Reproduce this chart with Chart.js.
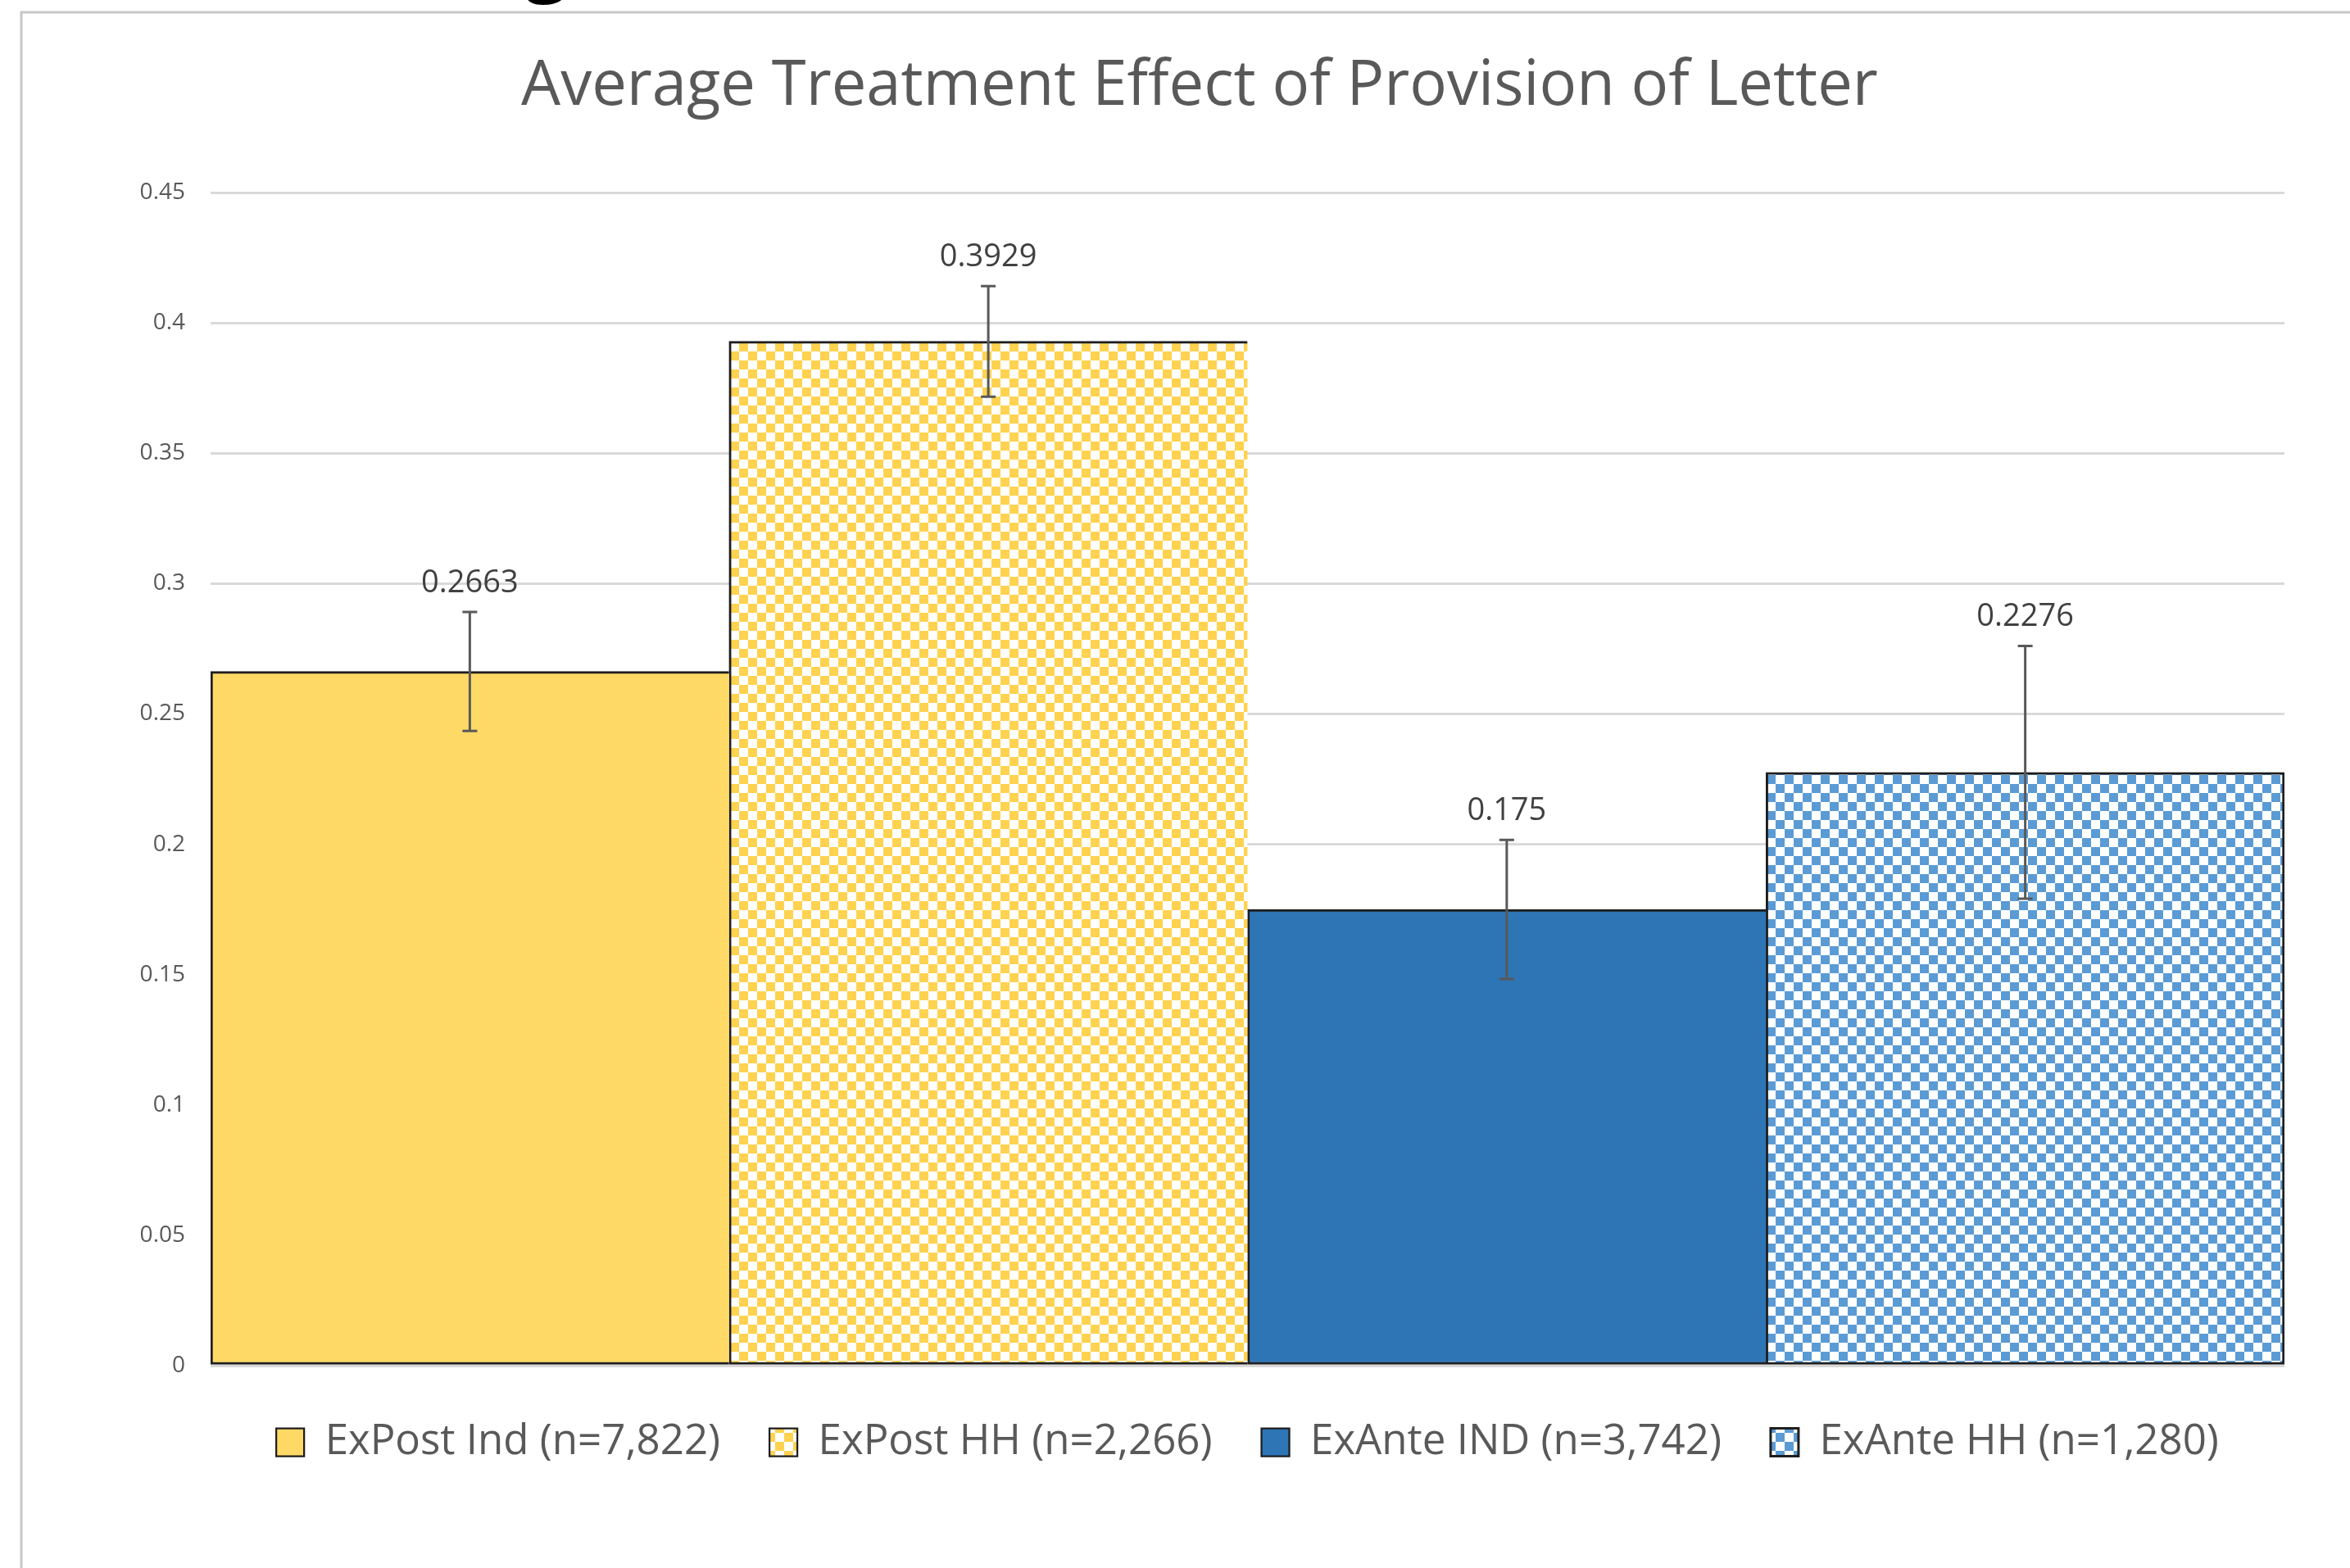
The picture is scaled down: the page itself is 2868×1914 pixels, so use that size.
<!DOCTYPE html>
<html>
<head>
<meta charset="utf-8">
<title>Average Treatment Effect of Provision of Letter</title>
<script src="https://cdn.jsdelivr.net/npm/chart.js@4.4.1/dist/chart.umd.min.js"></script>
<style>
  html, body { margin: 0; padding: 0; background: #fff; }
  canvas { display: block; }
</style>
</head>
<body>
<canvas id="ate" width="2868" height="1914"></canvas>
<script>
// ── Data ──────────────────────────────────────────────────────
const TITLE       = 'Average Treatment Effect of Provision of Letter';
const seriesNames = ['ExPost Ind (n=7,822)', 'ExPost HH (n=2,266)', 'ExAnte IND (n=3,742)', 'ExAnte HH (n=1,280)'];
const values      = [0.2663, 0.3929, 0.175, 0.2276];
const errMargin   = [0.0228, 0.0212, 0.0267, 0.0485];
const valueLabels = ['0.2663', '0.3929', '0.175', '0.2276'];
const yTickValues = [0, 0.05, 0.1, 0.15, 0.2, 0.25, 0.3, 0.35, 0.4, 0.45];
const yTickLabels = ['0', '0.05', '0.1', '0.15', '0.2', '0.25', '0.3', '0.35', '0.4', '0.45'];

const GREY   = '#595959';
const BORDER = '#1e1e1e';
const FONT   = '"Open Sans", "Noto Sans", sans-serif';

const canvas = document.getElementById('ate');
const ctx    = canvas.getContext('2d');

function checker(color, cell) {
  const c = document.createElement('canvas');
  c.width = c.height = cell * 2;
  const x = c.getContext('2d');
  x.fillStyle = '#fff';
  x.fillRect(0, 0, cell * 2, cell * 2);
  x.fillStyle = color;
  x.fillRect(0, 0, cell, cell);
  x.fillRect(cell, cell, cell, cell);
  return ctx.createPattern(c, 'repeat');
}

const fills = ['#FFD966', checker('#FFD24F', 11), '#2E75B6', checker('#5B9BD5', 11)];

// ── Plugins: frame/title, error bars + value labels ───────────
const framePlugin = {
  id: 'frame',
  beforeDraw(chart) {
    const c = chart.ctx;
    c.save();
    c.fillStyle = '#fff';
    c.fillRect(0, 0, chart.width, chart.height);
    // chart border (cut off at right and bottom)
    c.strokeStyle = '#c8c8c8';
    c.lineWidth = 3;
    c.beginPath();
    c.moveTo(26, chart.height);
    c.lineTo(26, 15);
    c.lineTo(chart.width, 15);
    c.stroke();
    // bottom of a cropped letter above the chart
    c.fillStyle = '#000';
    c.font = 'bold 90px ' + FONT;
    c.textAlign = 'center';
    c.textBaseline = 'alphabetic';
    c.fillText('g', 667, -16);
    // title
    c.fillStyle = GREY;
    c.font = '76px ' + FONT;
    c.fillText(TITLE, 1464, 128);
    c.restore();
  }
};

const errorBarPlugin = {
  id: 'errorBars',
  afterDatasetsDraw(chart) {
    const c = chart.ctx;
    const y = chart.scales.y;
    c.save();
    chart.data.datasets.forEach((ds, i) => {
      const bar = chart.getDatasetMeta(i).data[0];
      if (!bar) return;
      const x  = bar.x;
      const hi = y.getPixelForValue(values[i] + errMargin[i]);
      const lo = y.getPixelForValue(values[i] - errMargin[i]);
      c.strokeStyle = GREY;
      c.lineWidth = 3;
      c.beginPath();
      c.moveTo(x, hi); c.lineTo(x, lo);
      c.moveTo(x - 9, hi); c.lineTo(x + 9, hi);
      c.moveTo(x - 9, lo); c.lineTo(x + 9, lo);
      c.stroke();

      c.fillStyle = '#404040';
      c.font = '38px ' + FONT;
      c.textAlign = 'center';
      c.textBaseline = 'alphabetic';
      c.fillText(valueLabels[i], x, hi - 24);
    });
    c.restore();
  }
};

// ── Chart ─────────────────────────────────────────────────────
const datasets = seriesNames.map((name, i) => ({
  label: name,
  data: [values[i]],
  backgroundColor: fills[i],
  borderColor: BORDER,
  borderWidth: { top: 3, bottom: 3, left: 3, right: i === seriesNames.length - 1 ? 3 : 0 },
  borderSkipped: false,
  categoryPercentage: 1,
  barPercentage: 1,
}));

new Chart(canvas, {
  type: 'bar',
  data: { labels: [''], datasets },
  options: {
    responsive: false,
    animation: false,
    devicePixelRatio: 1,
    layout: { padding: { left: 0, right: 80, top: 235, bottom: 118 } },
    plugins: {
      title: { display: false },
      tooltip: { enabled: false },
      legend: {
        display: true,
        position: 'bottom',
        fullSize: false,
        labels: {
          color: GREY,
          font: { family: FONT, size: 51 },
          boxWidth: 34,
          boxHeight: 34,
          padding: 60,
        }
      }
    },
    scales: {
      x: {
        display: true,
        afterFit: s => { s.height = 8; },
        border: { display: false },
        grid: { display: false, drawTicks: false },
        ticks: { display: false },
      },
      y: {
        min: 0,
        max: 0.45,
        afterBuildTicks: s => { s.ticks = yTickValues.map(v => ({ value: v })); },
        afterFit: s => { s.width = 257; },
        border: { display: false },
        grid: { color: '#d9d9d9', lineWidth: 3, drawTicks: false },
        ticks: {
          color: GREY,
          font: { family: FONT, size: 28 },
          padding: 31,
          callback: (v, i) => yTickLabels[i],
        }
      }
    }
  },
  plugins: [framePlugin, errorBarPlugin]
});
</script>
</body>
</html>
